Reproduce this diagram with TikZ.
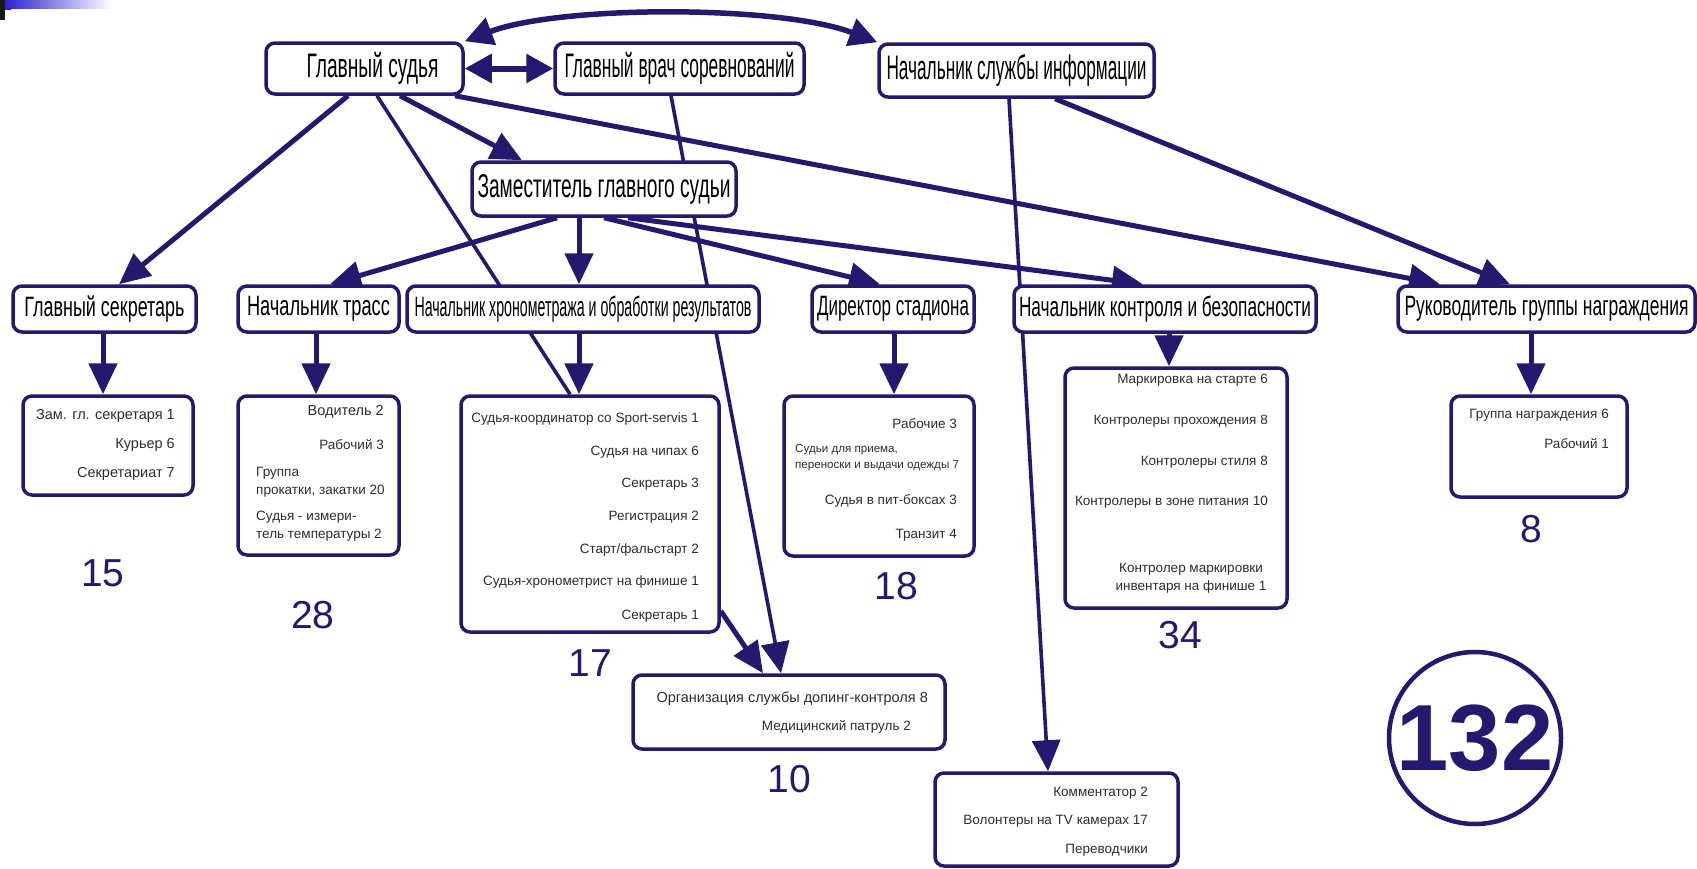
\documentclass[tikz,border=0pt]{standalone}
\usepackage{fontspec}
\setmainfont{Liberation Sans}
\newfontfamily\ttlfont{Liberation Sans}
\usetikzlibrary{arrows.meta,calc}
\definecolor{navy}{RGB}{35,25,110}
\definecolor{itemgray}{RGB}{45,45,50}
\definecolor{slideblue}{RGB}{45,35,205}
\pgfdeclarelayer{back}
\pgfdeclarelayer{bg}
\pgfsetlayers{back,bg,main}
\newcommand\ttl[2]{\resizebox{#1pt}{\height}{\ttlfont #2}}
\tikzset{
  box/.style={draw=navy, line width=3.5pt, rounded corners=9pt, fill=white, inner sep=0pt, text=black},
  top/.style={box, font=\fontsize{34}{36}\selectfont},
  lvl/.style={box, font=\fontsize{28}{30}\selectfont},
  arr/.style={draw=navy, line width=5pt, -{Triangle[length=31pt,width=28pt]}},
  thinarr/.style={draw=navy, line width=3.6pt, -{Triangle[length=31pt,width=28pt]}},
  thinline/.style={draw=navy, line width=3.6pt},
  itm/.style={font=\fontsize{13.5}{18}\selectfont, text=itemgray, inner sep=0pt},
  itmb/.style={itm, font=\fontsize{14.5}{18}\selectfont},
  itms/.style={itm, font=\fontsize{11.6}{16}\selectfont},
  num/.style={font=\fontsize{39}{40}\selectfont, text=navy, inner sep=0pt}
}
\begin{document}
\begin{tikzpicture}[x=1pt,y=-1pt]
\useasboundingbox (0,0) rectangle (1697,868);
\begin{pgfonlayer}{back}
\fill[white] (0,0) rectangle (1697,868);
\end{pgfonlayer}
% slide decoration
\fill[black!90] (0,0) rectangle (5,20);
\shade[left color=slideblue, right color=white] (5,0) rectangle (112,8);
\fill[slideblue] (5,8) rectangle (11,10);

% top row
\node[top, minimum width=197pt, minimum height=51pt] (gs) at (364.5,68.5) {\hspace*{16pt}\ttl{132}{Главный судья}};
\node[top, minimum width=249pt, minimum height=51pt] (gv) at (679.5,68.5) {\ttl{230}{Главный врач соревнований}};
\node[top, minimum width=275pt, minimum height=53pt] (inf) at (1016.5,70.5) {\ttl{260}{Начальник службы информации}};
\node[box, font=\fontsize{33}{35}\selectfont, minimum width=264pt, minimum height=54pt] (zam) at (604,189) {\ttl{253}{Заместитель главного судьи}};

% level 2
\node[lvl, minimum width=183pt, minimum height=46pt] (sec) at (104.5,309) {\ttl{160}{Главный секретарь}};
\node[lvl, minimum width=161pt, minimum height=46pt] (tr) at (318.5,309) {\ttl{143}{Начальник трасс}};
\node[lvl, minimum width=352pt, minimum height=46pt] (hr) at (583,309) {\ttl{337}{Начальник хронометража и обработки результатов}};
\node[lvl, minimum width=162pt, minimum height=46pt] (dir) at (893,309) {\ttl{152}{Директор стадиона}};
\node[lvl, minimum width=302pt, minimum height=46pt] (kon) at (1165,309) {\ttl{292}{Начальник контроля и безопасности}};
\node[lvl, minimum width=297pt, minimum height=46pt] (ruk) at (1546.5,309) {\ttl{284}{Руководитель группы награждения}};

% level 3 boxes
\node[box, minimum width=170pt, minimum height=99pt] (secg) at (108,445.5) {};
\node[box, minimum width=161pt, minimum height=159pt] (trg) at (318.5,475.5) {};
\node[box, minimum width=258pt, minimum height=236pt] (hg) at (590,514) {};
\node[box, minimum width=190pt, minimum height=160pt] (dirg) at (879,476) {};
\node[box, minimum width=222pt, minimum height=240pt] (kong) at (1176,488) {};
\node[box, minimum width=176pt, minimum height=101pt] (rukg) at (1539,446.5) {};
\node[box, minimum width=312pt, minimum height=74pt] (dg) at (789,712) {};
\node[box, minimum width=243pt, minimum height=93pt] (ig) at (1056.5,819.5) {};

% items
\node[itmb, anchor=east] (s1) at (175,416) {Зам. гл. секретаря 1};
\node[itmb, anchor=east] (s2) at (175,445) {Курьер 6};
\node[itmb, anchor=east] (s3) at (175,474) {Секретариат 7};

\node[itmb, anchor=east] (t1) at (384,412) {Водитель 2};
\node[itm, anchor=east] (t2) at (384,445) {Рабочий 3};
\node[itm, anchor=west, align=left] (t3) at (256,482) {Группа\\прокатки, закатки 20};
\node[itm, anchor=west, align=left] (t4) at (256,526) {Судья - измери-\\тель температуры 2};

\node[itm, anchor=east] (h1) at (699,419) {Судья-координатор со Sport-servis 1};
\node[itm, anchor=east] (h2) at (699,452) {Судья на чипах 6};
\node[itm, anchor=east] (h3) at (699,484) {Секретарь 3};
\node[itm, anchor=east] (h4) at (699,517) {Регистрация 2};
\node[itm, anchor=east] (h5) at (699,550) {Старт/фальстарт 2};
\node[itm, anchor=east] (h6) at (699,582) {Судья-хронометрист на финише 1};
\node[itm, anchor=east] (h7) at (699,616) {Секретарь 1};

\node[itm, anchor=east] (d1) at (957,424) {Рабочие 3};
\node[itms, anchor=west, align=left] (d2) at (795,458) {Судьи для приема,\\переноски и выдачи одежды 7};
\node[itm, anchor=east] (d3) at (957,501) {Судья в пит-боксах 3};
\node[itm, anchor=east] (d4) at (957,535) {Транзит 4};

\node[itm, anchor=east] (k1) at (1268,380) {Маркировка на старте 6};
\node[itm, anchor=east] (k2) at (1268,421) {Контролеры прохождения 8};
\node[itm, anchor=east] (k3) at (1268,462) {Контролеры стиля 8};
\node[itm, anchor=east] (k4) at (1268,502) {Контролеры в зоне питания 10};
\node[itm, align=center] (k5) at (1191,578) {Контролер маркировки\\ инвентаря на финише 1};

\node[itm, anchor=east] (r1) at (1609,415) {Группа награждения 6};
\node[itm, anchor=east] (r2) at (1609,444) {Рабочий 1};

\node[itmb, anchor=east] (m1) at (928,699) {Организация службы допинг-контроля 8};
\node[itm, anchor=east] (m2) at (911,727) {Медицинский патруль 2};

\node[itm, anchor=east] (i1) at (1148,793) {Комментатор 2};
\node[itm, anchor=east] (i2) at (1148,821) {Волонтеры на TV камерах 17};
\node[itm, anchor=east] (i3) at (1148,850) {Переводчики};

% totals
\node[num] (n15) at (103,573) {15};
\node[num] (n28) at (313,615) {28};
\node[num] (n17) at (590,663) {17};
\node[num] (n18) at (896,586) {18};
\node[num] (n34) at (1180,635) {34};
\node[num] (n8) at (1531,529) {8};
\node[num] (n10) at (789,779) {10};
\node[draw=navy, line width=4.5pt, circle, minimum size=172pt, inner sep=0pt, text=navy, font=\bfseries\fontsize{94}{94}\selectfont] (tot) at (1475,738) {132};

% connectors
\begin{pgfonlayer}{bg}
\draw[arr, line width=5.5pt, {Triangle[length=28pt,width=28pt]}-{Triangle[length=28pt,width=28pt]}] (gs.north east) .. controls (560,5) and (780,5) .. (inf.north west);
\draw[arr, line width=6pt, {Triangle[length=27pt,width=28pt]}-{Triangle[length=27pt,width=28pt]}] (gs.east) -- (gv.west);
\draw[arr] (gs.south -| 348,0) -- (sec.north -| 119,0);
\draw[thinline] (gs.south -| 377,0) -- (hg.north -| 570,0);
\draw[arr] (gs.south -| 400,0) -- (zam.north -| 522,0);
\draw[arr] (gs.south -| 455,0) -- (ruk.north -| 1440,0);
\draw[arr] (inf.south -| 1055,0) -- (ruk.north -| 1510,0);
\draw[thinarr] (inf.south -| 1009,0) -- (ig.north -| 1048,0);
\draw[thinarr] (gv.south -| 671,0) -- (dg.north -| 781,0);
\draw[arr] (hg.east |- 0,611) -- (dg.north -| 763,0);
\draw[arr] (zam.south -| 557,0) -- (tr.north -| 330,0);
\draw[arr] (zam.south -| 579,0) -- (hr.north -| 579,0);
\draw[arr] (zam.south -| 604,0) -- (dir.north -| 880,0);
\draw[arr] (zam.south -| 628,0) -- (kon.north -| 1143,0);
\draw[arr] (sec.south -| 103,0) -- (secg.north -| 103,0);
\draw[arr] (tr.south -| 316,0) -- (trg.north -| 316,0);
\draw[arr] (hr.south -| 579,0) -- (hg.north -| 579,0);
\draw[arr] (dir.south -| 894,0) -- (dirg.north -| 894,0);
\draw[arr] (kon.south -| 1169,0) -- (kong.north -| 1169,0);
\draw[arr] (ruk.south -| 1531,0) -- (rukg.north -| 1531,0);
\end{pgfonlayer}
\end{tikzpicture}
\end{document}
